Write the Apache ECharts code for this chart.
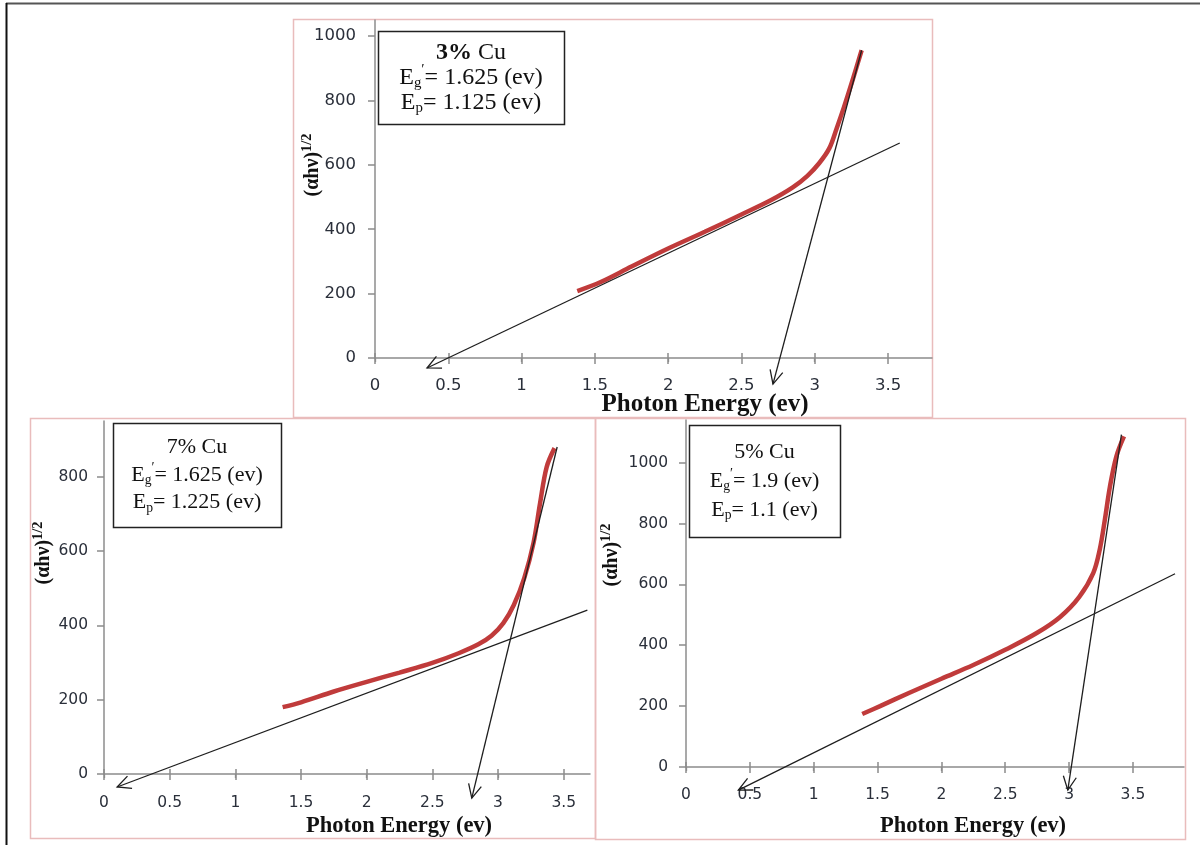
<!DOCTYPE html>
<html><head><meta charset="utf-8">
<script src="https://cdn.jsdelivr.net/npm/echarts@6/dist/echarts.min.js"></script>
<style>html,body{margin:0;padding:0;background:#fff}#c{width:1200px;height:845px}</style>
</head><body><div id="c"></div>
<script>
// ---------- DATA ----------
// 3% Cu
const cu3X = [1.38, 1.54, 1.75, 2.0, 2.25, 2.5, 2.7, 2.85, 2.95, 3.03, 3.1, 3.15, 3.2, 3.26, 3.32];
const cu3Y = [208, 236, 284, 340, 392, 446, 490, 530, 566, 605, 652, 714, 780, 866, 956];
const cu3LowFit = [0.355, -31, 3.58, 668];     // arrow end first
const cu3SteepFit = [2.715, -81, 3.32, 956];
const cu3Text = ['3%', 'Cu', '1.625', '1.125'];

// 7% Cu
const cu7X = [1.36, 1.5, 1.75, 2.0, 2.25, 2.5, 2.7, 2.85, 2.95, 3.04, 3.12, 3.2, 3.27, 3.32, 3.37, 3.43];
const cu7Y = [180, 193, 222, 248, 273, 299, 325, 349, 372, 406, 455, 528, 622, 729, 826, 877];
const cu7LowFit = [0.10, -35, 3.68, 441];
const cu7SteepFit = [2.80, -65, 3.45, 880];
const cu7Text = ['7%', 'Cu', '1.625', '1.225'];

// 5% Cu
const cu5X = [1.38, 1.52, 1.75, 2.0, 2.25, 2.5, 2.75, 2.93, 3.08, 3.19, 3.24, 3.28, 3.32, 3.37, 3.43];
const cu5Y = [174, 200, 244, 290, 335, 385, 441, 493, 559, 638, 714, 812, 921, 1020, 1086];
const cu5LowFit = [0.41, -76, 3.83, 635];
const cu5SteepFit = [2.99, -76, 3.41, 1092];
const cu5Text = ['5%', 'Cu', '1.9', '1.1'];

const xMajorTicks = [0, 0.5, 1, 1.5, 2, 2.5, 3, 3.5];
const yMajorTicks = [0, 200, 400, 600, 800, 1000];
const xTitle = 'Photon Energy (ev)';

// ---------- LAYOUT ----------
const panels = [
  { x: cu3X, y: cu3Y, low: cu3LowFit, steep: cu3SteepFit, txt: cu3Text, boldPct: true,
    grid: { left: 375, top: 20, width: 557, height: 338 }, xMax: 3.8, yMax: 1050,
    frame: [293, 19, 639, 398], box: [378, 31, 186, 93], boxFont: 24, boxLine: 25,
    tickFont: 16.5, xMargin: 19, yMargin: 19,
    titleFont: 25, xTitlePos: [705, 405], yTitlePos: [313, 165], yTitleFont: 20 },
  { x: cu7X, y: cu7Y, low: cu7LowFit, steep: cu7SteepFit, txt: cu7Text, boldPct: false,
    grid: { left: 104, top: 421, width: 486, height: 353 }, xMax: 3.7, yMax: 950,
    frame: [30, 418, 565, 420], box: [113, 423, 168, 104], boxFont: 22, boxLine: 27.5,
    tickFont: 15.5, xMargin: 21, yMargin: 16,
    titleFont: 22.5, xTitlePos: [399, 826], yTitlePos: [44, 553], yTitleFont: 20 },
  { x: cu5X, y: cu5Y, low: cu5LowFit, steep: cu5SteepFit, txt: cu5Text, boldPct: false,
    grid: { left: 686, top: 420, width: 498, height: 347 }, xMax: 3.9, yMax: 1140,
    frame: [595, 418, 590, 421], box: [689, 425, 151, 112], boxFont: 22, boxLine: 29,
    tickFont: 15.5, xMargin: 20, yMargin: 18,
    titleFont: 22.5, xTitlePos: [973, 826], yTitlePos: [612, 555], yTitleFont: 20 }
];

const AXIS_COLOR = '#8c8c8c';
const LABEL_COLOR = '#2a2f3a';
const RED = '#c03b3b';
const LINE = '#1e1e1e';

function minorTicks(max) {
  const out = [];
  for (let i = 0; i * 0.1 <= max + 1e-9; i++) out.push(Math.round(i * 10) / 10);
  return out;
}

function arrowItem(params, api) {
  const p1 = api.coord([api.value(0), api.value(1)]);
  const p2 = api.coord([api.value(2), api.value(3)]);
  const ang = Math.atan2(p2[1] - p1[1], p2[0] - p1[0]);
  const L = 15, A = 0.45;
  const a1 = [p1[0] + L * Math.cos(ang + A), p1[1] + L * Math.sin(ang + A)];
  const a2 = [p1[0] + L * Math.cos(ang - A), p1[1] + L * Math.sin(ang - A)];
  return {
    type: 'group',
    children: [
      { type: 'line', shape: { x1: p1[0], y1: p1[1], x2: p2[0], y2: p2[1] },
        style: { stroke: LINE, lineWidth: 1.3 } },
      { type: 'polyline', shape: { points: [a1, p1, a2] },
        style: { stroke: LINE, lineWidth: 1.3, fill: null } }
    ]
  };
}

const grid = [], xAxis = [], yAxis = [], series = [], graphic = [];

// outer frame
graphic.push({ type: 'line', shape: { x1: 6, y1: 3.5, x2: 1200, y2: 3.5 }, style: { stroke: '#555', lineWidth: 2 }, z: 100 });
graphic.push({ type: 'line', shape: { x1: 6.5, y1: 3, x2: 6.5, y2: 845 }, style: { stroke: '#111', lineWidth: 2 }, z: 100 });

panels.forEach((p, i) => {
  grid.push(Object.assign({ containLabel: false }, p.grid));
  const base = { gridIndex: i, type: 'value', min: 0, max: p.xMax, position: 'bottom', splitLine: { show: false } };
  xAxis.push(Object.assign({}, base, {
    axisLine: { show: true, lineStyle: { color: AXIS_COLOR, width: 1.5 } },
    axisTick: { show: true, customValues: xMajorTicks, length: 6, lineStyle: { color: AXIS_COLOR, width: 1.5 } },
    axisLabel: { customValues: xMajorTicks, margin: p.xMargin, color: LABEL_COLOR, fontSize: p.tickFont,
      fontFamily: 'DejaVu Sans', formatter: v => String(v) }
  }));
  xAxis.push(Object.assign({}, base, {
    axisLine: { show: false },
    axisTick: { show: true, customValues: minorTicks(p.xMax), length: 4, lineStyle: { color: AXIS_COLOR, width: 1.3 } },
    axisLabel: { show: false }
  }));
  xAxis.push(Object.assign({}, base, {
    axisLine: { show: false },
    axisTick: { show: true, inside: true, customValues: xMajorTicks, length: 5, lineStyle: { color: AXIS_COLOR, width: 1.5 } },
    axisLabel: { show: false }
  }));
  const yt = yMajorTicks.filter(v => v <= p.yMax);
  yAxis.push({
    gridIndex: i, type: 'value', min: 0, max: p.yMax, splitLine: { show: false },
    axisLine: { show: true, lineStyle: { color: AXIS_COLOR, width: 1.5 } },
    axisTick: { show: true, customValues: yt, length: 7, lineStyle: { color: AXIS_COLOR, width: 1.5 } },
    axisLabel: { customValues: yt, margin: p.yMargin, color: LABEL_COLOR, fontSize: p.tickFont,
      fontFamily: 'DejaVu Sans', formatter: v => String(v) }
  });
  const xi = i * 3;
  series.push({
    type: 'line', xAxisIndex: xi, yAxisIndex: i, data: p.x.map((v, k) => [v, p.y[k]]),
    smooth: 0.35, symbol: 'none', lineStyle: { color: RED, width: 4.5 }, z: 2
  });
  series.push({
    type: 'custom', xAxisIndex: xi, yAxisIndex: i, renderItem: arrowItem, clip: false, z: 5,
    encode: { x: [0, 2], y: [1, 3] }, data: [p.low, p.steep], silent: true
  });

  // panel frame
  graphic.push({ type: 'rect', shape: { x: p.frame[0] + 0.5, y: p.frame[1] + 0.5, width: p.frame[2], height: p.frame[3] },
    style: { fill: null, stroke: '#e9bcbc', lineWidth: 1.5 }, z: 0 });
  // info box
  graphic.push({ type: 'rect', shape: { x: p.box[0] + 0.5, y: p.box[1] + 0.5, width: p.box[2], height: p.box[3] },
    style: { fill: '#fff', stroke: '#222', lineWidth: 1.5 }, z: 50 });
  const fs = p.boxFont, lh = p.boxLine, ff = '"Liberation Serif", "Times New Roman", serif';
  graphic.push({
    type: 'text', x: p.box[0] + p.box[2] / 2, y: p.box[1] + p.box[3] / 2, z: 51,
    style: {
      text: '{' + (p.boldPct ? 'b' : 'n') + '|' + p.txt[0] + '}{n| ' + p.txt[1] + '}\n' +
            '{n|E}{sub|g}{sup|\u2032}{n|= ' + p.txt[2] + ' (ev)}\n' +
            '{n|E}{sub|p}{n|= ' + p.txt[3] + ' (ev)}',
      align: 'center', verticalAlign: 'middle', fill: '#111',
      rich: {
        n: { fontFamily: ff, fontSize: fs, lineHeight: lh, fill: '#111' },
        b: { fontFamily: ff, fontSize: fs, fontWeight: 'bold', lineHeight: lh, fill: '#111' },
        sub: { fontFamily: ff, fontSize: fs * 0.62, lineHeight: lh, padding: [11, 0, 0, 0], fill: '#111' },
        sup: { fontFamily: ff, fontSize: fs * 0.62, lineHeight: lh, padding: [0, 0, 14, 0], fill: '#111' }
      }
    }
  });
  // axis titles
  graphic.push({
    type: 'text', x: p.xTitlePos[0], y: p.xTitlePos[1], z: 20,
    style: { text: xTitle, align: 'center', verticalAlign: 'middle', fill: '#111',
      font: 'bold ' + p.titleFont + 'px "Liberation Serif", serif' }
  });
  const yf = p.yTitleFont;
  graphic.push({
    type: 'text', x: p.yTitlePos[0], y: p.yTitlePos[1], rotation: Math.PI / 2, z: 20,
    style: {
      text: '{m|(\u03b1h\u03bd)}{s|1/2}', align: 'center', verticalAlign: 'middle',
      rich: {
        m: { fontFamily: ff, fontWeight: 'bold', fontSize: yf, fill: '#111' },
        s: { fontFamily: ff, fontWeight: 'bold', fontSize: yf * 0.72, padding: [0, 0, 12, 0], fill: '#111' }
      }
    }
  });
});

const chart = echarts.init(document.getElementById('c'), null, { renderer: 'canvas' });
chart.setOption({ animation: false, backgroundColor: '#fff', grid, xAxis, yAxis, series, graphic });
</script>
</body></html>
